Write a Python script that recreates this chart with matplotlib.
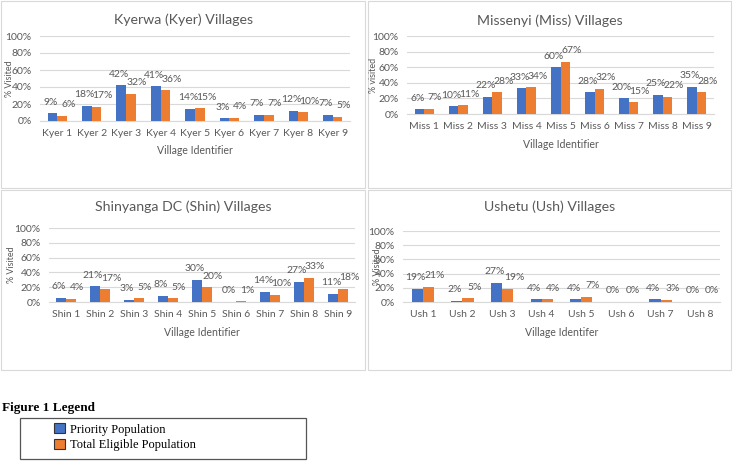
import matplotlib.pyplot as plt
from matplotlib.patches import Rectangle, Patch

plt.rcParams['font.family'] = ['Lato', 'DejaVu Sans']

# data (percent visited)
kyer_labels = ['Kyer %d' % i for i in range(1, 10)]
kyer_priority = [9, 18, 42, 41, 14, 3, 7, 12, 7]
kyer_total = [6, 17, 32, 36, 15, 4, 7, 10, 5]

miss_labels = ['Miss %d' % i for i in range(1, 10)]
miss_priority = [6, 10, 22, 33, 60, 28, 20, 25, 35]
miss_total = [7, 11, 28, 34, 67, 32, 15, 22, 28]

shin_labels = ['Shin %d' % i for i in range(1, 10)]
shin_priority = [6, 21, 3, 8, 30, 0, 14, 27, 11]
shin_total = [4, 17, 5, 5, 20, 1, 10, 33, 18]

ush_labels = ['Ush %d' % i for i in range(1, 9)]
ush_priority = [19, 2, 27, 4, 4, 0, 4, 0]
ush_total = [21, 5, 19, 4, 7, 0, 3, 0]

BLUE = '#4472C4'
ORANGE = '#ED7D31'
GREY = '#595959'
W, H = 733, 461

fig = plt.figure(figsize=(W / 100, H / 100), dpi=100)


def px_axes(left, right, top, bottom):
    return fig.add_axes([left / W, 1 - bottom / H, (right - left) / W, (bottom - top) / H])


def panel_box(x0, y0, x1, y1):
    fig.patches.append(Rectangle((x0 / W, 1 - y1 / H), (x1 - x0) / W, (y1 - y0) / H,
                                 transform=fig.transFigure, fill=False,
                                 edgecolor='#D9D9D9', linewidth=0.8))


def draw(ax, title, labels, prio, total, xlabel, ylabel, title_y, xlabel_y, ylabel_x, box):
    x = range(len(labels))
    bw = 0.28
    b1 = ax.bar([i - bw / 2 for i in x], prio, bw, color=BLUE, zorder=3)
    b2 = ax.bar([i + bw / 2 for i in x], total, bw, color=ORANGE, zorder=3)
    for bars, vals, dx in ((b1, prio, -1.5), (b2, total, 4.5)):
        for b, v in zip(bars, vals):
            ax.annotate('%d%%' % v, (b.get_x() + b.get_width() / 2, v),
                        xytext=(dx, 8), textcoords='offset points',
                        ha='center', va='center', fontsize=7.5, color=GREY)
    ax.set_xlim(-0.5, len(labels) - 0.5)
    ax.set_ylim(0, 100)
    ax.set_yticks(range(0, 101, 20))
    ax.set_yticklabels(['%d%%' % t for t in range(0, 101, 20)])
    ax.set_xticks(list(x))
    ax.set_xticklabels(labels)
    ax.tick_params(length=0, labelsize=7.5, labelcolor=GREY, pad=6)
    ax.grid(axis='y', color='#D9D9D9', linewidth=0.8, zorder=0)
    for s in ('top', 'right', 'left'):
        ax.spines[s].set_visible(False)
    ax.spines['bottom'].set_color('#D9D9D9')
    pos = ax.get_position()
    fig.text(ylabel_x / W, (pos.y0 + pos.y1) / 2, ylabel, rotation=90,
             ha='center', va='center', fontsize=6.5, color=GREY)
    x0, y0, x1, y1 = box
    fig.text((x0 + x1) / 2 / W, 1 - title_y / H, title, ha='center', va='center',
             fontsize=10.2, color=GREY)
    fig.text((pos.x0 + pos.x1) / 2, 1 - xlabel_y / H, xlabel,
             ha='center', va='center', fontsize=7.6, color=GREY)
    panel_box(*box)


ax1 = px_axes(40, 350, 36, 121)
draw(ax1, 'Kyerwa (Kyer) Villages', kyer_labels, kyer_priority, kyer_total,
     'Village Identifier', '% Visited', 20, 151, 9, (1, 1, 365, 188))

ax2 = px_axes(407, 714, 36, 114)
draw(ax2, 'Missenyi (Miss) Villages', miss_labels, miss_priority, miss_total,
     'Village Identifier', '% visited', 21, 145, 373, (368, 1, 731, 188))

ax3 = px_axes(49, 355, 228, 302)
draw(ax3, 'Shinyanga DC (Shin) Villages', shin_labels, shin_priority, shin_total,
     'Village Identifier', '% Visited', 207, 332, 12, (1, 190, 365, 370))

ax4 = px_axes(403, 720, 231, 302)
draw(ax4, 'Ushetu (Ush) Villages', ush_labels, ush_priority, ush_total,
     'Village Identifer', '% Visited', 207, 332, 377, (368, 190, 731, 370))

# separate legend block
fig.text(2 / W, 1 - 408 / H, 'Figure 1 Legend', family='Liberation Serif',
         fontweight='bold', fontsize=9.5, va='center', ha='left')
fig.patches.append(Rectangle((20 / W, 1 - 459 / H), 286 / W, 41 / H,
                             transform=fig.transFigure, fill=False,
                             edgecolor='#555555', linewidth=0.9))
handles = [Patch(facecolor=BLUE, edgecolor='#333333', linewidth=0.8),
           Patch(facecolor=ORANGE, edgecolor='#333333', linewidth=0.8)]
fig.legend(handles, ['Priority Population', 'Total Eligible Population'],
           loc='upper left', bbox_to_anchor=(54 / W, 1 - 423 / H), frameon=False,
           prop={'family': 'Liberation Serif', 'size': 9},
           handlelength=0.9, handleheight=0.9, handletextpad=0.4,
           labelspacing=0.25, borderpad=0, borderaxespad=0)

fig.savefig('out.png', dpi=100)
